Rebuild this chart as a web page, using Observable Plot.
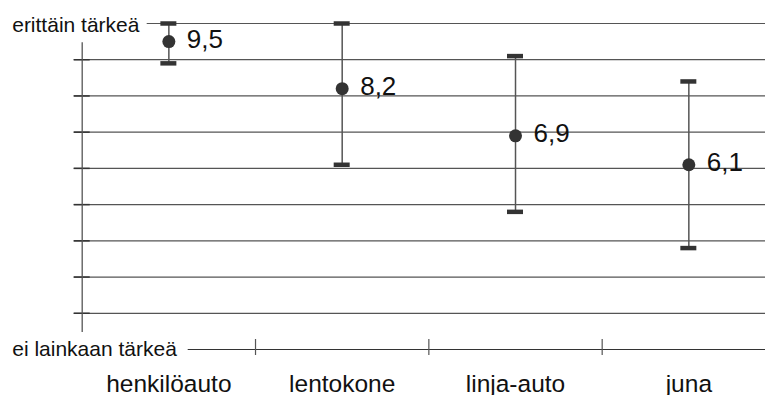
<!DOCTYPE html>
<html><head><meta charset="utf-8">
<script src="https://cdn.jsdelivr.net/npm/d3@7"></script>
<script src="https://cdn.jsdelivr.net/npm/@observablehq/plot@0.6"></script>
<style>html,body{margin:0;padding:0;overflow:hidden;background:#fff}</style>
</head><body><div id="chart"></div>
<script>
const categories = ["henkilöauto", "lentokone", "linja-auto", "juna"];
const means = [9.5, 8.2, 6.9, 6.1];
const lows = [8.9, 6.1, 4.8, 3.8];
const highs = [10, 10, 9.1, 8.4];
const scaleValues = [1, 2, 3, 4, 5, 6, 7, 8, 9, 10];
const endLabelValues = [10, 1];
const endLabelText = ["erittäin tärkeä", "ei lainkaan tärkeä"];
const yAxisSpan = [1.47, 9.47];

const rows = categories.map((c, i) => ({c, x: i + 0.5, mean: means[i], low: lows[i], high: highs[i]}));
const inner = scaleValues.filter(v => v > 1 && v < 10);
const fmt = v => d3.format(".1f")(v).replace(".", ",");
const LINE = "#555";

const chart = Plot.plot({
  width: 765,
  height: 395,
  marginBottom: 4,
  x: {domain: [0, categories.length], range: [81.7, 775], axis: null},
  y: {domain: [1, 10], range: [349, 23], axis: null},
  style: {fontFamily: "'Liberation Sans', Arial, sans-serif", color: "#111", background: "#fff"},
  marks: [
    Plot.ruleY(inner, {x1: 0, x2: 4, insetLeft: -8, stroke: LINE, strokeWidth: 1.2}),
    Plot.ruleY([endLabelValues[0]], {x1: 0, x2: 4, insetLeft: 65, stroke: LINE, strokeWidth: 1.2}),
    Plot.ruleY([endLabelValues[1]], {x1: 0, x2: 4, insetLeft: 106, stroke: "#333", strokeWidth: 1.2}),
    Plot.ruleY(inner, {x1: 0, x2: 0, insetLeft: -8, insetRight: -8, stroke: "#333", strokeWidth: 1.5}),
    Plot.ruleX([0], {y1: yAxisSpan[0], y2: yAxisSpan[1], stroke: LINE, strokeWidth: 1.3}),
    Plot.ruleX([1, 2, 3], {y1: 1, y2: 1, insetTop: -10, insetBottom: -6, stroke: LINE, strokeWidth: 1.2}),
    Plot.ruleX(rows, {x: "x", y1: "low", y2: "high", stroke: LINE, strokeWidth: 1.5}),
    Plot.ruleY(rows, {x1: "x", x2: "x", y: "low", insetLeft: -8, insetRight: -8, stroke: "#333", strokeWidth: 4.5}),
    Plot.ruleY(rows, {x1: "x", x2: "x", y: "high", insetLeft: -8, insetRight: -8, stroke: "#333", strokeWidth: 4.5}),
    Plot.dot(rows, {x: "x", y: "mean", r: 6.5, fill: "#333", stroke: null}),
    Plot.text(rows, {x: "x", y: "mean", text: d => fmt(d.mean), textAnchor: "start", dx: 18, dy: -2, fontSize: 26, fill: "#111"}),
    Plot.text(rows, {x: "x", text: "c", frameAnchor: "bottom", lineAnchor: "bottom", fontSize: 24.5, fill: "#111"}),
    Plot.text([0], {x: 0, y: endLabelValues[0], text: [endLabelText[0]], textAnchor: "start", dx: -70, dy: 2, fontSize: 21, fill: "#111"}),
    Plot.text([0], {x: 0, y: endLabelValues[1], text: [endLabelText[1]], textAnchor: "start", dx: -70, fontSize: 21, fill: "#111"})
  ]
});
document.getElementById("chart").append(chart);
</script>
</body></html>
